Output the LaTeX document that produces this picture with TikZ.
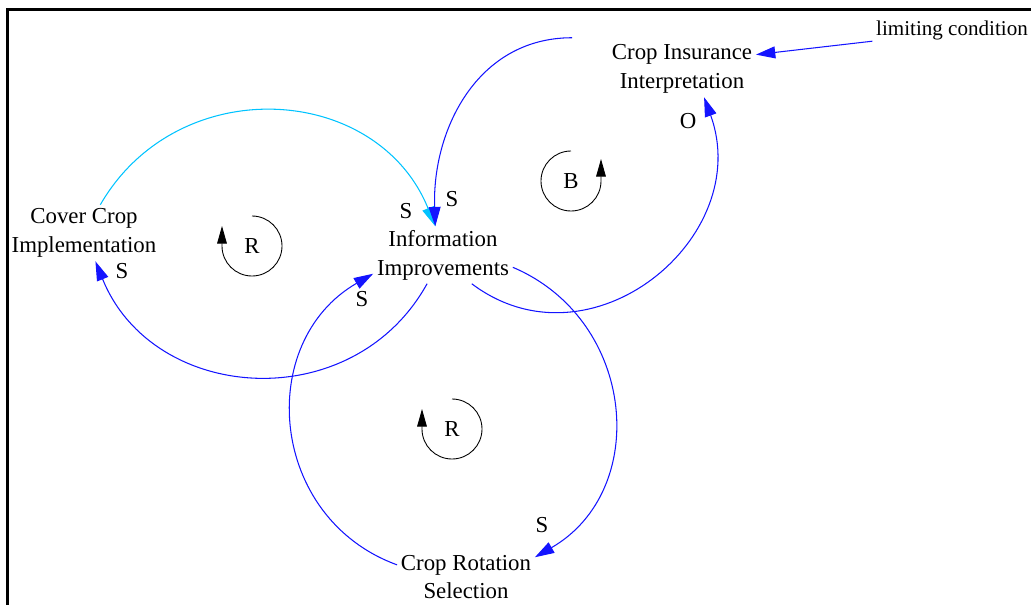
\documentclass[tikz,border=0pt]{standalone}
\usepackage{fontspec}
\setmainfont{Liberation Serif}
\usepackage{xcolor}
\usepackage{tikz}
\usetikzlibrary{arrows.meta}
\definecolor{linkblue}{RGB}{20,20,255}
\definecolor{linkcyan}{RGB}{0,195,255}

\begin{document}
\begin{tikzpicture}[x=0.02cm, y=0.02cm,
	var/.style={align=center, inner sep=2pt, font=\fontsize{13}{16.4}\selectfont},
	pol/.style={inner sep=0pt, font=\fontsize{13}{16.4}\selectfont},
	link/.style={linkblue, line width=0.6pt, -{Triangle[length=11pt,width=6.8pt]}},
	loopmark/.style={black, line width=0.5pt, -{Triangle[length=10pt,width=5.5pt]}}]
	\useasboundingbox (0,0) rectangle (1031,-605);
	\draw[line width=1.7pt] (7.5,-605) -- (7.5,-9.5) -- (1031,-9.5);
	
	\node (cc) at (84,-233) [var] {Cover Crop\\Implementation};
	\node (ii) at (443,-255) [var] {Information\\Improvements};
	\node (ci) at (682,-69) [var] {Crop Insurance\\Interpretation};
	\node (cr) at (466,-577) [var] {Crop Rotation\\Selection};
	\node (lc) at (952,-30) [var, font=\fontsize{12}{14}\selectfont] {limiting condition};
	
	\draw[link, linkcyan] (cc) to[out=60, in=112, looseness=1.18] (ii.105);
	\draw[link] (ii) to[out=-119, in=-68, looseness=1.18] (cc);
	\draw[link] ([xshift=-0.72cm, yshift=0.06cm]ci.north west) to[out=180, in=92, looseness=1.05] (ii.105);
	\draw[link] (ii.-45) to[out=-37, in=-70, looseness=1.28] (ci.-52);
	\draw[link] (cr.170) to[out=160, in=210, looseness=1.2] (ii.195);
	\draw[link] (ii.-10) to[out=-23, in=30, looseness=1.18] (cr.16);
	\draw[link] (lc.188) -- (ci.11);
	
	\node (s1) at (122,-271) [pol] {S};
	\node (s2) at (406,-211) [pol] {S};
	\node (s3) at (452,-199) [pol] {S};
	\node (s4) at (362,-299) [pol] {S};
	\node (s5) at (542,-525) [pol] {S};
	\node (o1) at (688,-121) [pol] {O};
	
	\node (r1) at (252,-246) [pol] {R};
	\node (b1) at (571,-181) [pol] {B};
	\node (r2) at (452,-429) [pol] {R};
	\draw[loopmark] (r1.center) ++(90:30) arc[start angle=90, end angle=-180, radius=30] -- ++(0,20);
	\draw[loopmark] (b1.center) ++(90:30) arc[start angle=90, end angle=360, radius=30] -- ++(0,22);
	\draw[loopmark] (r2.center) ++(90:30) arc[start angle=90, end angle=-180, radius=30] -- ++(0,20);
\end{tikzpicture}
\end{document}
